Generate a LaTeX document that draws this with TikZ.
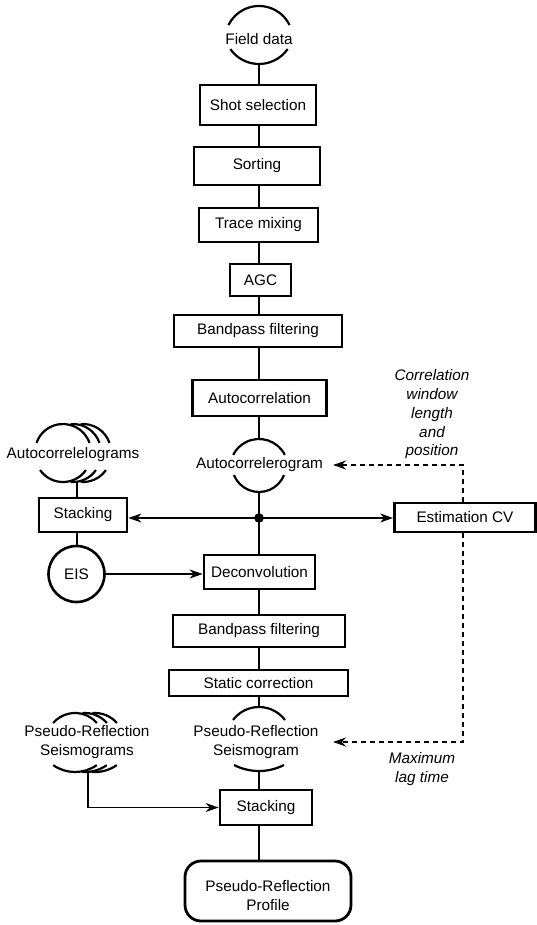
\documentclass[tikz,border=0pt]{standalone}
\usepackage{fontspec}
\setmainfont{Liberation Sans}
\usetikzlibrary{arrows.meta}
\tikzset{
  procbox/.style={draw, line width=2.8pt, inner sep=0pt},
  conn/.style={line width=1.5pt},
  arr/.style={conn, -{Stealth[length=13pt,width=9pt]}},
  dashconn/.style={conn, dash pattern=on 5pt off 4pt, -{Stealth[length=13pt,width=9pt]}},
  symline/.style={line width=2.2pt},
  lab/.style={font=\fontsize{15.3}{18.75}\selectfont\itshape, align=center},
}
% top arc: cx, cy, r, angle of end points above horizontal
\newcommand\TopArc[4]{\draw[symline] ([shift={(#1,#2)}]-#4:#3) arc[start angle=-#4, end angle=-180+#4, radius=#3];}
\newcommand\TopBack[4]{\draw[symline] ([shift={(#1,#2)}]-95:#3) arc[start angle=-95, end angle=-#4, radius=#3];}
\newcommand\BotArc[4]{\draw[symline] ([shift={(#1,#2)}]#4:#3) arc[start angle=#4, end angle=180-#4, radius=#3];}
\newcommand\BotBack[4]{\draw[symline] ([shift={(#1,#2)}]95:#3) arc[start angle=95, end angle=#4, radius=#3];}
\begin{document}
\begin{tikzpicture}[x=1pt,y=-1pt, font=\fontsize{15.3}{19}\selectfont]
\useasboundingbox (0,0) rectangle (537,925);
\coordinate (ax) at (259,0);

% process boxes
\node[procbox, minimum width=116pt, minimum height=40pt] (shot) at (258,105) {Shot selection};
\node[procbox, minimum width=126pt, minimum height=38pt] (sort) at (257,166) {Sorting};
\node[procbox, minimum width=119pt, minimum height=34pt] (trace) at (258.5,225) {Trace mixing};
\node[procbox, minimum width=61pt, minimum height=32pt] (agc) at (260.5,280) {AGC};
\node[procbox, minimum width=168pt, minimum height=32pt] (bp1) at (258,331) {Bandpass filtering};
\node[procbox, minimum width=134pt, minimum height=36pt] (acorr) at (259.5,398) {Autocorrelation};
\node[procbox, minimum width=111pt, minimum height=34pt] (deconv) at (259.5,572) {Deconvolution};
\node[procbox, minimum width=172pt, minimum height=32pt] (bp2) at (259,631) {Bandpass filtering};
\node[procbox, minimum width=179pt, minimum height=26pt] (static) at (258.5,683) {Static correction};
\node[procbox, minimum width=92pt, minimum height=35pt] (stack) at (266,807.5) {Stacking};
\node[procbox, rounded corners=16pt, minimum width=166pt, minimum height=60pt] (profile) at (268,891) {};
\node[align=center] (profileT) at (268,895.5) {Pseudo-Reflection\\Profile};
\node[procbox, minimum width=88pt, minimum height=34pt] (stackL) at (83,515) {Stacking};
\node[draw, circle, line width=2.6pt, minimum size=56pt, inner sep=0pt] (eis) at (76.5,574) {EIS};
\node[procbox, minimum width=141pt, minimum height=29pt] (est) at (465,517.5) {Estimation CV};

% data symbols text
\node (fd) at (259,39) {Field data};
\node (acg) at (259.5,465) {Autocorrelerogram};
\node (acgs) at (73,455) {Autocorrelelograms};
\node[align=center] (prs) at (256,742.5) {Pseudo-Reflection\\Seismogram};
\node[align=center] (prsL) at (87,742.5) {Pseudo-Reflection\\Seismograms};

% labels
\node[lab] (lab1) at (432,414.5) {Correlation\\window\\length\\and\\position};
\node[lab] (lab2) at (422,769) {Maximum\\lag time};

% data symbol arcs
\TopArc{259}{40}{34}{26}
\BotArc{259}{29}{35}{35}
\TopArc{259}{468}{29}{27}
\BotArc{259}{465}{27}{22}
\TopArc{259}{739.5}{32.5}{37}
\BotArc{259}{716}{55}{63}
% stacked: autocorrelelograms
\TopBack{83}{452}{28}{19}
\TopBack{73}{452}{28}{19}
\TopArc{63}{452}{28}{19}
\BotBack{83}{454}{28}{35}
\BotBack{73}{454}{28}{35}
\BotArc{63}{454}{28}{35}
% stacked: pseudo-reflection seismograms
\TopBack{95}{742}{29}{41}
\TopBack{85}{742}{29}{41}
\TopArc{75}{742}{29}{41}
\BotBack{95}{734}{38}{55}
\BotBack{85}{734}{38}{55}
\BotArc{75}{734}{38}{55}

% symbol end coordinates
\coordinate (fdB) at (259,64);
\coordinate (acgT) at (259,439);
\coordinate (acgB) at (259,492);
\coordinate (prsT) at (259,707);
\coordinate (prsB) at (259,771);
\coordinate (acgsB) at (77,482);
\coordinate (prsLB) at (88,772);
\coordinate (dot) at (259,518);
\coordinate (c1) at (463,465);
\coordinate (c2) at (463,742);
\coordinate (tip1) at (333,465);
\coordinate (tip2) at (333,742);

% main axis connectors
\draw[conn] (fdB) -- (ax |- shot.north);
\draw[conn] (ax |- shot.south) -- (ax |- sort.north);
\draw[conn] (ax |- sort.south) -- (ax |- trace.north);
\draw[conn] (ax |- trace.south) -- (ax |- agc.north);
\draw[conn] (ax |- agc.south) -- (ax |- bp1.north);
\draw[conn] (ax |- bp1.south) -- (ax |- acorr.north);
\draw[conn] (ax |- acorr.south) -- (acgT);
\draw[conn] (acgB) -- (dot);
\draw[conn] (dot) -- (ax |- deconv.north);
\draw[conn] (ax |- deconv.south) -- (ax |- bp2.north);
\draw[conn] (ax |- bp2.south) -- (ax |- static.north);
\draw[conn] (ax |- static.south) -- (prsT);
\draw[conn] (prsB) -- (ax |- stack.north);
\draw[conn] (ax |- stack.south) -- (ax |- profile.north);
\fill (dot) circle (4.8pt);

% side connectors
\draw[arr] (dot) -- (dot -| stackL.east);
\draw[arr] (dot) -- (dot -| est.west);
\draw[conn] (acgsB) -- (acgsB |- stackL.north);
\draw[conn] (acgsB |- stackL.south) -- (acgsB |- eis.north);
\draw[arr] (eis.east) -- (eis.east -| deconv.west);
\draw[arr] (prsLB) |- (stack.west);

% dashed feedback
\draw[dashconn] (c1 |- est.north) -- (c1) -- (tip1);
\draw[dashconn] (c2 |- est.south) -- (c2) -- (tip2);
\end{tikzpicture}
\end{document}
